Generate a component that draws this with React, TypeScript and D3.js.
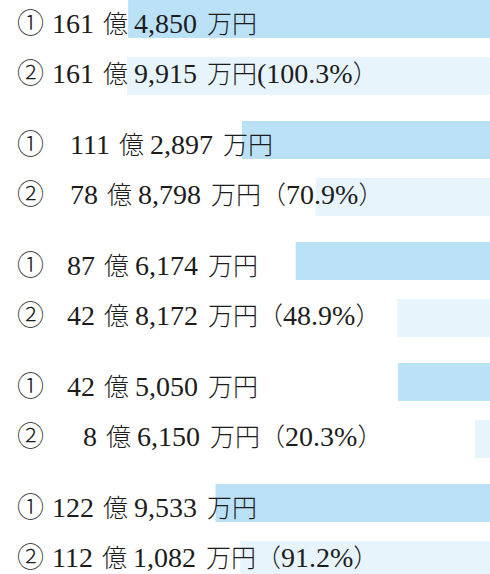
import React from "react";
import * as d3 from "d3";

// values in 万円
const groups = ["g1", "g2", "g3", "g4", "g5"];
const plan = [1614850, 1112897, 876174, 425050, 1229533];
const actual = [1619915, 788798, 428172, 86150, 1121082];

// text layout (start x of the 億-number in each line)
const numXPlan = [52, 70, 67, 67, 52];
const numXActual = [52, 70, 67, 83, 52];
const fullWidthParen = [false, true, true, true, true];

const W = 490;
const H = 574;

const latin = "'Liberation Serif', serif";
const cjk = "'Noto Sans CJK JP', sans-serif";

function Line({
  y,
  mark,
  numX,
  v,
  pct,
  full,
}: {
  y: number;
  mark: string;
  numX: number;
  v: number;
  pct?: string;
  full?: boolean;
}) {
  const oku = Math.floor(v / 10000);
  const man = d3.format(",")(v % 10000);
  return (
    <text y={y} fill="#1c1c1c" style={{ whiteSpace: "pre" }}>
      <tspan x={17} fontFamily={cjk} fontSize={27} fontWeight={300}>
        {mark}
      </tspan>
      <tspan x={numX} fontFamily={latin} fontSize={28}>
        {String(oku)}
      </tspan>
      <tspan dx={9} fontFamily={cjk} fontSize={25} fontWeight={300}>
        億
      </tspan>
      <tspan dx={6} fontFamily={latin} fontSize={28}>
        {man}
      </tspan>
      <tspan dx={10} fontFamily={cjk} fontSize={25} fontWeight={300}>
        万円
      </tspan>
      {pct !== undefined && full && (
        <tspan fontFamily={cjk} fontSize={25} fontWeight={300}>
          （
        </tspan>
      )}
      {pct !== undefined && !full && (
        <tspan fontFamily={latin} fontSize={28}>
          (
        </tspan>
      )}
      {pct !== undefined && (
        <tspan fontFamily={latin} fontSize={28}>
          {pct + "%"}
        </tspan>
      )}
      {pct !== undefined && (
        <tspan fontFamily={cjk} fontSize={25} fontWeight={300}>
          ）
        </tspan>
      )}
    </text>
  );
}

export default function App() {
  const maxV = d3.max(actual.concat(plan)) as number;
  const x = d3.scaleLinear().domain([0, maxV]).range([494.5, 127]);
  const gy = d3
    .scaleLinear()
    .domain([0, groups.length])
    .range([0, 121 * groups.length]);
  const barH = 38;
  const off2 = 57;
  const c1 = "#bbe1f7";
  const c2 = "#e8f4fc";

  return (
    <svg
      width={W}
      height={H}
      style={{ position: "absolute", left: 0, top: 0, background: "#fff" }}
    >
      {groups.map((g, i) => {
        const top = gy(i);
        const pct = d3.format(".1f")((actual[i] / plan[i]) * 100);
        return (
          <g key={g}>
            <rect
              x={x(plan[i])}
              y={top}
              width={x(0) - x(plan[i])}
              height={barH}
              fill={c1}
            />
            <rect
              x={x(actual[i])}
              y={top + off2}
              width={x(0) - x(actual[i])}
              height={barH}
              fill={c2}
            />
            <Line y={top + 32.5} mark="①" numX={numXPlan[i]} v={plan[i]} />
            <Line
              y={top + 82.5}
              mark="②"
              numX={numXActual[i]}
              v={actual[i]}
              pct={pct}
              full={fullWidthParen[i]}
            />
          </g>
        );
      })}
    </svg>
  );
}
